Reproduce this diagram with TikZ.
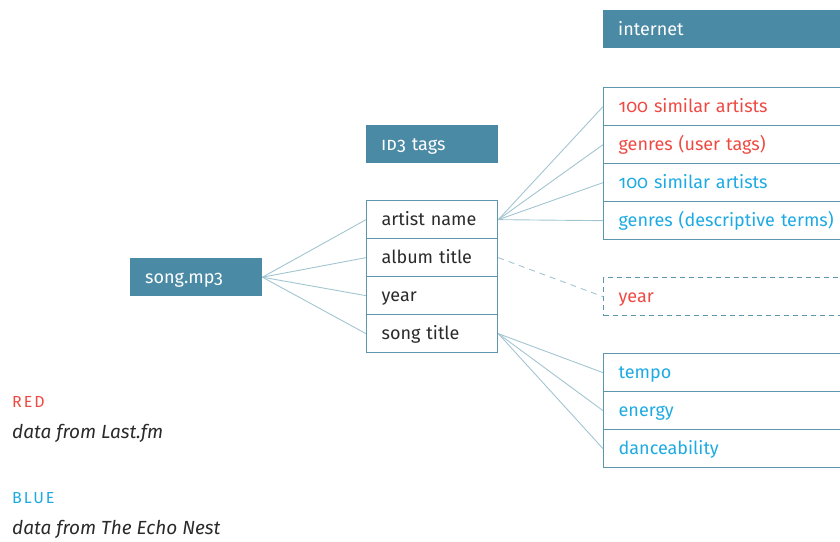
\documentclass[tikz,border=0pt]{standalone}
\usepackage{fontspec}
\setmainfont{Fira Sans}[Numbers=OldStyle]
\definecolor{teal}{HTML}{4A8AA4}
\definecolor{tealline}{HTML}{5E96AC}
\definecolor{conn}{HTML}{A2C5D1}
\definecolor{lfred}{HTML}{EE4A43}
\definecolor{enblue}{HTML}{1DAAE2}
\definecolor{txt}{HTML}{2A2A2A}
\begin{document}
\begin{tikzpicture}[x=1pt,y=-1pt,
  every node/.style={font=\fontsize{18}{21}\selectfont},
  head/.style={fill=teal,text=white,anchor=north west,minimum height=38pt,inner xsep=15pt,text width=#1,align=left,inner ysep=0pt,text height=16pt,text depth=4pt},
  cell/.style={draw=tealline,line width=1.3pt,anchor=north west,minimum height=38pt,inner xsep=15pt,text width=#1,align=left,inner ysep=0pt,text=txt,text height=16pt,text depth=4pt},
  conn/.style={draw=conn,line width=0.9pt},
  lbl/.style={anchor=base west,inner sep=0pt}]
\clip (0,0) rectangle (840,541);
\useasboundingbox (0,0) rectangle (840,541);
% headers
\node[head=230pt] (inet) at (603,10) {internet};
\node[head=102pt] (id3) at (366,125) {\textsc{id}3 tags};
\node[head=102pt] (song) at (130,258) {song.mp3};
% middle column
\node[cell=101pt] (artist) at (366,200) {artist name};
\node[cell=101pt] (album) at (366,238) {album title};
\node[cell=101pt] (year) at (366,276) {year};
\node[cell=101pt] (title) at (366,314) {song title};
% right group 1
\node[cell=230pt,text=lfred] (r1) at (603,87) {100 similar artists};
\node[cell=230pt,text=lfred] (r2) at (603,125) {genres (user tags)};
\node[cell=230pt,text=enblue] (r3) at (603,163) {100 similar artists};
\node[cell=230pt,text=enblue] (r4) at (603,201) {genres (descriptive terms)};
% year dashed
\node[cell=230pt,text=lfred,dashed,dash pattern=on 5pt off 4pt] (ry) at (603,277) {year};
% group 3
\node[cell=230pt,text=enblue] (t1) at (603,353) {tempo};
\node[cell=230pt,text=enblue] (t2) at (603,391) {energy};
\node[cell=230pt,text=enblue] (t3) at (603,429) {danceability};
% connectors
\foreach \n in {artist,album,year,title} \draw[conn] (song.east) -- (\n.west);
\foreach \n in {r1,r2,r3,r4} \draw[conn] (artist.east) -- (\n.west);
\draw[conn,dashed,dash pattern=on 6pt off 5pt] (album.east) -- (ry.west);
\foreach \n in {t1,t2,t3} \draw[conn] (title.east) -- (\n.west);
% legend
\node[lbl,text=lfred] (red) at (12,407) {\addfontfeature{LetterSpace=12}\fontsize{16}{18}\selectfont RED};
\node[lbl,text=txt] (redt) at (12,438) {\fontsize{19}{22}\selectfont\itshape data from Last.fm};
\node[lbl,text=enblue] (blue) at (12,503) {\addfontfeature{LetterSpace=12}\fontsize{16}{18}\selectfont BLUE};
\node[lbl,text=txt] (bluet) at (12,534) {\fontsize{19}{22}\selectfont\itshape data from The Echo Nest};
\end{tikzpicture}
\end{document}
